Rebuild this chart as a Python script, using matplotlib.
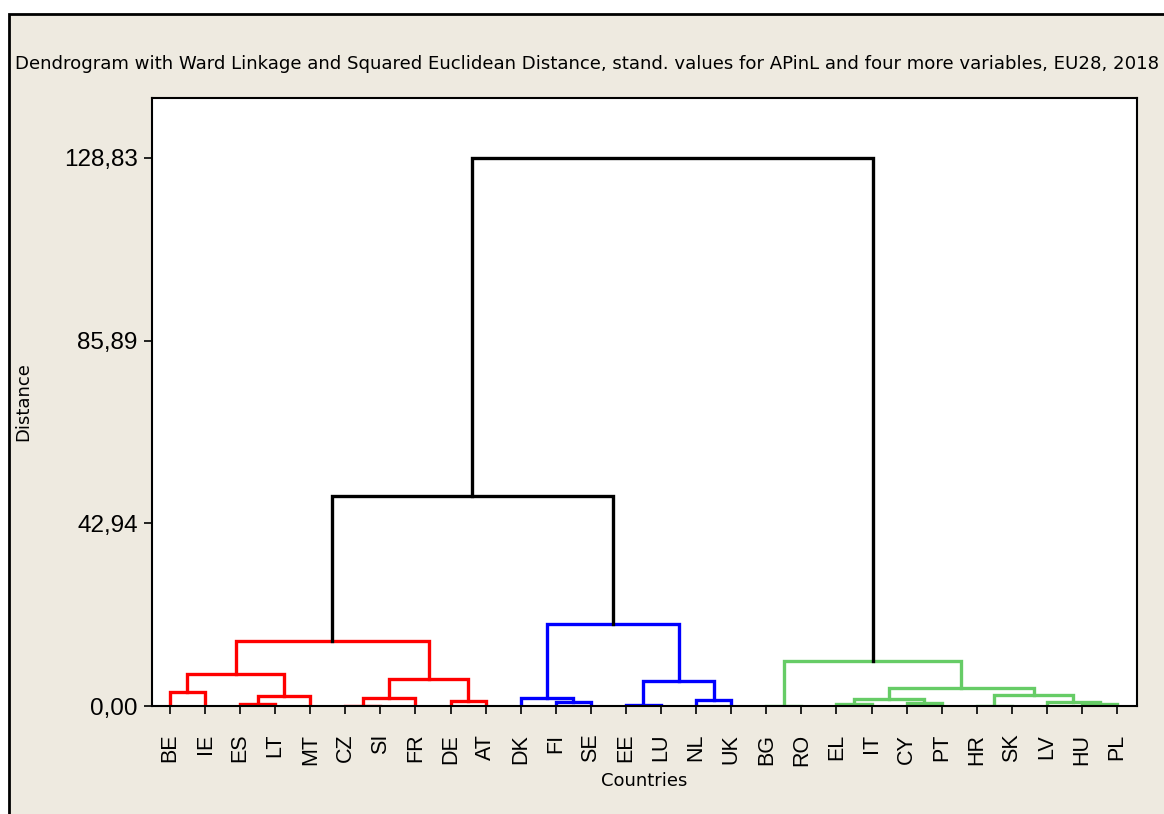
import matplotlib
matplotlib.use("Agg")
import matplotlib.pyplot as plt
from matplotlib.patches import Rectangle

# leaf labels in display order
countries = ["BE", "IE", "ES", "LT", "MT", "CZ", "SI", "FR", "DE", "AT",
             "DK", "FI", "SE", "EE", "LU", "NL", "UK",
             "BG", "RO", "EL", "IT", "CY", "PT", "HR", "SK", "LV", "HU", "PL"]

# merges, scipy style: new node id = 28 + row index
merge_a = [2, 5, 28, 0, 29, 8, 31, 32, 34,
           11, 10, 13, 15, 39, 38,
           17, 19, 21, 44, 23, 26, 25, 47, 46, 43,
           36, 53]
merge_b = [3, 6, 4, 1, 7, 9, 30, 33, 35,
           12, 37, 14, 16, 40, 41,
           18, 20, 22, 45, 24, 27, 48, 49, 50, 51,
           42, 52]
merge_h = [0.4, 0.1, 2.35, 3.3, 1.8, 1.2, 7.45, 6.25, 15.2,
           1.0, 1.8, 0.2, 1.3, 5.9, 19.2,
           0.1, 0.4, 0.8, 1.55, 0.1, 0.4, 0.95, 2.5, 4.3, 10.6,
           49.45, 128.83]
merge_group = ["r"] * 9 + ["b"] * 6 + ["g"] * 10 + ["k"] * 2

ytick_vals = [0.0, 42.94, 85.89, 128.83]
ytick_text = ["0,00", "42,94", "85,89", "128,83"]

colors = {"r": "#FF0000", "b": "#0000FF", "g": "#66CC66", "k": "#000000"}

fig = plt.figure(figsize=(11.64, 8.14), dpi=100)
fig.patch.set_facecolor("white")
fig.patches.append(Rectangle((9 / 1164, -0.05), 1.1, 1 - 14 / 814 + 0.05,
                             transform=fig.transFigure, facecolor="#EEEAE0",
                             edgecolor="black", lw=2, zorder=-10))

ax = fig.add_axes([151.7 / 1164, 1 - 706 / 814, (1136.7 - 151.7) / 1164, (706 - 98) / 814])
ax.set_facecolor("white")

n = len(countries)
xpos = {i: float(i) for i in range(n)}
hpos = {i: 0.0 for i in range(n)}
for k in range(len(merge_h)):
    a, b, h = merge_a[k], merge_b[k], merge_h[k]
    xa, xb = xpos[a], xpos[b]
    ax.plot([xa, xa, xb, xb], [hpos[a], h, h, hpos[b]],
            color=colors[merge_group[k]], lw=2.4, solid_joinstyle="miter")
    xpos[n + k] = (xa + xb) / 2
    hpos[n + k] = h

ax.set_xlim(-0.52, 27.56)
ax.set_ylim(0, 142.9)
ax.set_xticks(range(n))
ax.set_xticklabels(countries, rotation=90, fontsize=15.5, family="Liberation Sans")
ax.set_yticks(ytick_vals)
ax.set_yticklabels(ytick_text, fontsize=17.5, family="Liberation Sans")
ax.tick_params(direction="out", length=6, width=1.2, color="black", pad=4)
ax.tick_params(axis="x", pad=14)
for sp in ax.spines.values():
    sp.set_linewidth(1.5)

ax.set_xlabel("Countries", fontsize=13, va="top")
ax.xaxis.set_label_coords(0.5, -66 / 608)
ax.set_ylabel("Distance", fontsize=13)
ax.yaxis.set_label_coords(-119 / 985, 0.5)
fig.text(15 / 1164, 1 - 64 / 814, "Dendrogram with Ward Linkage and Squared Euclidean Distance, "
         "stand. values for APinL and four more variables, EU28, 2018",
         fontsize=13.1, va="center", ha="left")

fig.savefig("out.png", dpi=100)
